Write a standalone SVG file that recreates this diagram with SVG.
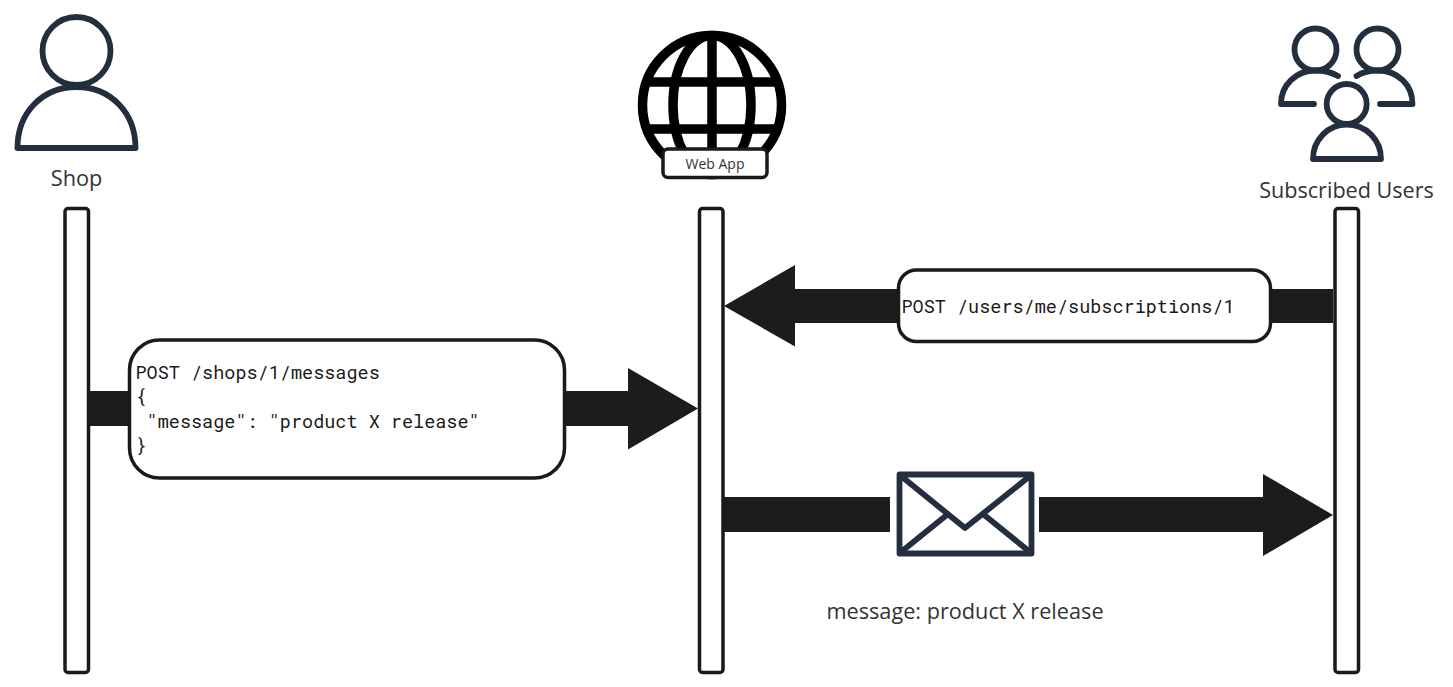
<svg xmlns="http://www.w3.org/2000/svg" width="1453" height="687" viewBox="0 0 1453 687">
<style>
.icon{fill:none;stroke:#232f3e;stroke-width:5.800;stroke-linejoin:round;stroke-linecap:round}
.globe{fill:none;stroke:#000;stroke-width:9.500}
.bar{fill:#fff;stroke:#1a1a1a;stroke-width:3.500}
.box{fill:#fff;stroke:#1a1a1a;stroke-width:3.500}
.arrow{fill:#1c1c1c}
.label{font-family:"Open Sans",sans-serif;fill:#333}
.mono{font-family:"Roboto Mono","DejaVu Sans Mono","Liberation Mono",monospace;font-size:18.500px;fill:#1a1a1a}
</style>
<rect width="1453" height="687" fill="#fff"/>
<g id="connectors">
<path class="arrow" d="M88 391H628V368L698 408.500L628 449.500V426H88Z"/>
<path class="arrow" d="M1333 289H795V265L724 306L795 346.500V323H1333Z"/>
<path class="arrow" d="M723 497H1263V474L1333 515L1263 556V532H723Z"/>
<rect x="890" y="480" width="149" height="70" fill="#fff"/>
</g>
<g id="shop">
<circle class="icon" cx="76.500" cy="51" r="34"/>
<path class="icon" d="M17.500 148C17.500 112 43 87 76.500 87C110 87 135.500 112 135.500 148Z"/>
<text class="label" x="76.500" y="186" font-size="21.700" text-anchor="middle">Shop</text>
</g>
<g id="webapp">
<circle class="globe" cx="712" cy="105" r="69.500"/>
<ellipse class="globe" cx="712" cy="105" rx="39" ry="69.500"/>
<path class="globe" d="M712 36V150M648 82H776M648 129H776"/>
<rect class="box" x="663" y="149" width="104" height="28.500" rx="5"/>
<text class="label" x="715" y="169" font-size="14" text-anchor="middle">Web App</text>
</g>
<g id="users">
<circle class="icon" cx="1315.500" cy="49.500" r="21"/>
<path class="icon" d="M1281 104C1281 85 1296 70.500 1315.500 70.500C1323 70.500 1331 72 1338 76M1281 104H1314"/>
<circle class="icon" cx="1377.500" cy="49.500" r="21"/>
<path class="icon" d="M1412.500 104C1412.500 85 1398 70.500 1377.500 70.500C1369 70.500 1363 72 1356.500 76M1412.500 104H1380"/>
<circle class="icon" cx="1346.700" cy="104" r="20"/>
<path class="icon" d="M1313 159C1313 140 1328 124.500 1346.700 124.500C1366 124.500 1381 140 1381 159Z"/>
<text class="label" x="1346.500" y="198" font-size="21.600" text-anchor="middle">Subscribed Users</text>
</g>
<g id="shop-lifeline"><rect class="bar" x="65" y="208.500" width="23.500" height="464" rx="3"/></g>
<g id="webapp-lifeline"><rect class="bar" x="699.500" y="208.500" width="23.500" height="464" rx="3"/></g>
<g id="users-lifeline"><rect class="bar" x="1335" y="208.500" width="23.500" height="464" rx="3"/></g>
<g id="post-message">
<rect class="box" x="129.500" y="340" width="435" height="138" rx="30"/>
<text class="mono" xml:space="preserve"><tspan x="135.500" y="379">POST /shops/1/messages</tspan><tspan x="135.500" y="403">{</tspan><tspan x="135.500" y="428"> "message": "product X release"</tspan><tspan x="135.500" y="452">}</tspan></text>
</g>
<g id="post-subscription">
<rect class="box" x="898.500" y="270" width="372" height="71.500" rx="18"/>
<text class="mono" x="901.500" y="313">POST /users/me/subscriptions/1</text>
</g>
<g id="envelope">
<rect class="icon" x="899.500" y="474.500" width="132" height="79"/>
<path class="icon" d="M901 476L965 528L1030 476M901 552L948 514M1030 552L983 514"/>
</g>
<g id="message-label">
<text class="label" x="965" y="619" font-size="21.700" text-anchor="middle">message: product X release</text>
</g>
</svg>
